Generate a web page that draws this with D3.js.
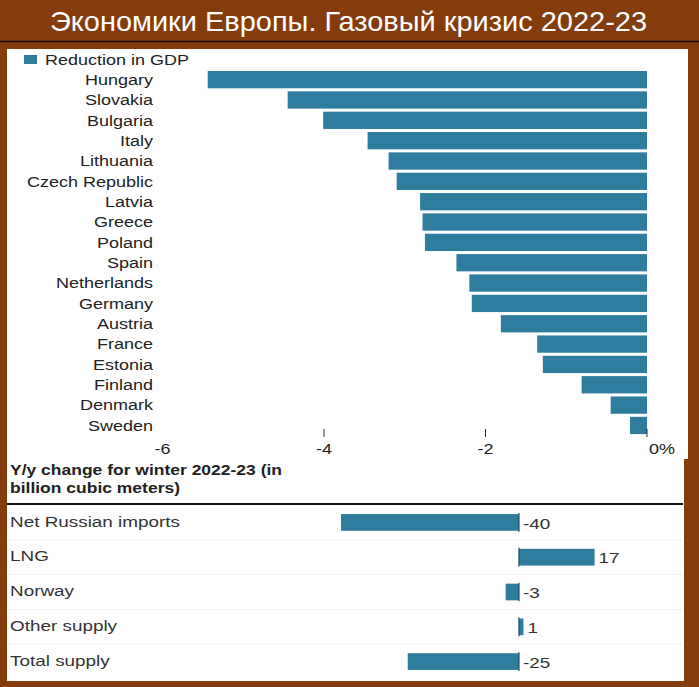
<!DOCTYPE html>
<html><head><meta charset="utf-8">
<script src="https://cdn.jsdelivr.net/npm/d3@7"></script>
<style>
html,body{margin:0;padding:0;background:#843c0c;}
svg{display:block;}
text{font-family:"Liberation Sans",Arial,Helvetica,sans-serif;}
</style></head>
<body>
<svg id="c" width="699" height="687"></svg>
<script>
const titleText = "Экономики Европы. Газовый кризис 2022-23";
const countries = ["Hungary","Slovakia","Bulgaria","Italy","Lithuania","Czech Republic","Latvia","Greece","Poland","Spain","Netherlands","Germany","Austria","France","Estonia","Finland","Denmark","Sweden"];
const gdpValues = [-5.44,-4.45,-4.01,-3.46,-3.2,-3.1,-2.81,-2.78,-2.75,-2.36,-2.2,-2.17,-1.81,-1.36,-1.29,-0.81,-0.45,-0.21];
const gdpTicks = [-6,-4,-2,0];
const gdpTickLabels = ["-6","-4","-2","0%"];
const legendLabel = "Reduction in GDP";
const gasHeader = ["Y/y change for winter 2022-23 (in","billion cubic meters)"];
const gasCategories = ["Net Russian imports","LNG","Norway","Other supply","Total supply"];
const gasValues = [-40,17,-3,1,-25];

const BAR = "#2e7c9e";
const svg = d3.select("#c");
const SX = 1.2, SX2 = 1.26;

function stext(g, x, y, str, anchor, size, sx, opts={}) {
  return g.append("text")
    .attr("transform", `translate(${x},${y}) scale(${sx},1)`)
    .attr("text-anchor", anchor)
    .attr("dy", "0.35em")
    .attr("font-size", size)
    .attr("fill", opts.fill || "#222")
    .attr("font-weight", opts.weight || "normal")
    .text(str);
}

// background
svg.append("rect").attr("width",699).attr("height",687).attr("fill","#843c0c");
svg.append("line").attr("x1",0).attr("x2",699).attr("y1",41.5).attr("y2",41.5).attr("stroke","#1a0a00").attr("stroke-width",1.5);
svg.append("text").attr("x",50).attr("y",21).attr("dy","0.35em").attr("text-anchor","start")
  .attr("textLength",597).attr("lengthAdjust","spacingAndGlyphs")
  .attr("font-family","'Open Sans',sans-serif").attr("font-size",28).attr("fill","#fff").text(titleText);

// panels
svg.append("rect").attr("x",7).attr("y",49).attr("width",681).attr("height",410).attr("fill","#fff");
svg.append("rect").attr("x",7).attr("y",458).attr("width",677).attr("height",223).attr("fill","#fff");

// ---- top chart
const x = d3.scaleLinear().domain([-6,0]).range([162.5,647]);
const y = d3.scaleBand().domain(countries).range([71,434.1]).paddingInner(0.15).paddingOuter(0);
const topG = svg.append("g");

topG.selectAll("rect.bar").data(countries).join("rect").attr("class","bar")
  .attr("x",(d,i)=>x(gdpValues[i])).attr("y",d=>y(d))
  .attr("width",(d,i)=>x(0)-x(gdpValues[i])).attr("height",y.bandwidth()).attr("fill",BAR);

countries.forEach(c=>stext(topG,153,y(c)+y.bandwidth()/2,c,"end",15,SX));

// legend
topG.append("rect").attr("x",24).attr("y",55).attr("width",13).attr("height",9).attr("fill",BAR);
stext(topG,45,59.5,legendLabel,"start",15,SX);

// ticks
gdpTicks.forEach((t,i)=>{
  if (t > -6) topG.append("line").attr("x1",x(t)).attr("x2",x(t)).attr("y1",429).attr("y2",437).attr("stroke","#333").attr("stroke-width",1);
  if (i === gdpTicks.length-1) stext(topG,x(t)+2,449,gdpTickLabels[i],"start",15,SX);
  else stext(topG,x(t),449,gdpTickLabels[i],"middle",15,SX);
});

// ---- bottom chart
const bot = svg.append("g");
stext(bot,10,470,gasHeader[0],"start",14,1.25,{weight:"bold"});
stext(bot,10,488,gasHeader[1],"start",14,1.25,{weight:"bold"});
bot.append("line").attr("x1",7).attr("x2",683).attr("y1",504).attr("y2",504).attr("stroke","#111").attr("stroke-width",2);

const gx = d3.scaleLinear().domain([-40,17]).range([341,594.6]);
const gy = d3.scaleBand().domain(gasCategories).range([505,679]).paddingInner(0.52).paddingOuter(0.26);
const step = gy.step();
gasCategories.forEach((c,i)=>{
  if (i>0) bot.append("line").attr("x1",7).attr("x2",683).attr("y1",gy(c)-(step-gy.bandwidth())/2).attr("y2",gy(c)-(step-gy.bandwidth())/2).attr("stroke","#efefef").attr("stroke-width",1);
});
bot.selectAll("rect.gbar").data(gasCategories).join("rect").attr("class","gbar")
  .attr("x",(d,i)=>gx(Math.min(0,gasValues[i]))).attr("y",d=>gy(d))
  .attr("width",(d,i)=>Math.abs(gx(gasValues[i])-gx(0))).attr("height",gy.bandwidth()).attr("fill",BAR);
bot.selectAll("line.zero").data(gasCategories).join("line").attr("class","zero")
  .attr("x1",gx(0)).attr("x2",gx(0)).attr("y1",d=>gy(d)-1).attr("y2",d=>gy(d)+gy.bandwidth()+1)
  .attr("stroke","#24485a").attr("stroke-width",1.2);
gasCategories.forEach((c,i)=>{
  const cy = gy(c)+gy.bandwidth()/2;
  stext(bot,10,cy-1,c,"start",15,SX2,{fill:"#333"});
  stext(bot,gx(Math.max(0,gasValues[i]))+4,cy+1,String(gasValues[i]),"start",15,SX2,{fill:"#333"});
});
</script>
</body></html>
